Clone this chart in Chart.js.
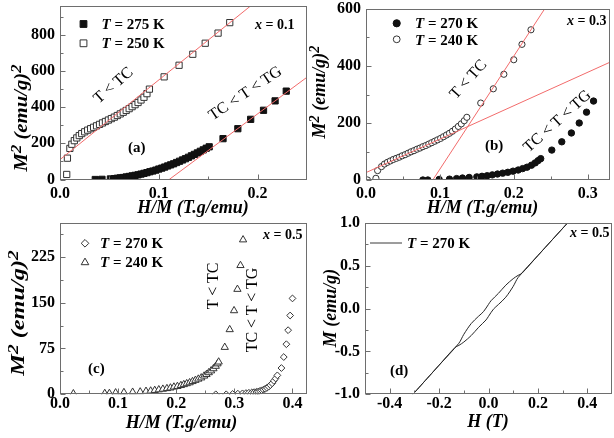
<!DOCTYPE html>
<html><head><meta charset="utf-8">
<script src="https://cdn.jsdelivr.net/npm/chart.js@4.4.1/dist/chart.umd.min.js"></script>
<style>
html,body{margin:0;padding:0;background:#fff;overflow:hidden;}
#wrap{position:relative;width:614px;height:438px;background:#fff;}
#wrap canvas{position:absolute;left:0;top:0;width:614px;height:438px;}
.t{position:absolute;font-family:"Liberation Serif","Times New Roman",serif;white-space:nowrap;color:#000;line-height:1;}
.t sup{font-size:0.8em;vertical-align:0.45em;line-height:0;}
</style></head><body>
<div id="wrap">
<canvas id="ca" width="614" height="438"></canvas>
<canvas id="cb" width="614" height="438"></canvas>
<canvas id="cc" width="614" height="438"></canvas>
<canvas id="cd" width="614" height="438"></canvas>
</div>
<script>
// ---------- Panel (a): x = 0.1 ----------
const a275X = [0.0357,0.0425,0.051,0.055,0.058,0.061,0.064,0.067,0.070,0.073,0.076,0.079,0.082,0.085,0.088,0.091,0.094,0.097,0.100,0.103,0.106,0.109,0.112,0.115,0.118,0.121,0.124,0.127,0.130,0.133,0.136,0.139,0.142,0.145,0.148,0.151,0.165,0.180,0.193,0.206,0.2177,0.229];
const a275Y = [0,1,3,5,7,9,11,14,17,20,23,26,30,34,38,43,47,52,58,63,69,75,81,87,94,101,108,115,123,131,139,147,156,164,173,181,226,281,333,383,435,489];
const a250X = [0.0068,0.0075,0.010,0.012,0.0145,0.017,0.0195,0.022,0.025,0.028,0.031,0.034,0.037,0.040,0.043,0.046,0.049,0.052,0.055,0.058,0.061,0.064,0.067,0.070,0.073,0.076,0.079,0.082,0.085,0.088,0.0905,0.1054,0.1205,0.1344,0.147,0.160,0.1718];
const a250Y = [28,118,172,195,215,230,243,254,264,273,281,289,297,305,313,321,329,337,345,354,363,372,382,392,403,414,426,440,455,475,500,568,632,693,754,810,868];
const aFitLowX = [0, 0.1928], aFitLowY = [110, 960];
const aFitHighX = [0.1105, 0.25], aFitHighY = [0, 566];
const aXTicks = [0.0, 0.1, 0.2], aXMinor = [0.05, 0.15];
const aYTicks = [0, 200, 400, 600, 800], aYMinor = [100, 300, 500, 700, 900];

// ---------- Panel (b): x = 0.3 ----------
const b270X = [0.077,0.0837,0.099,0.113,0.1226,0.1306,0.1396,0.150,0.157,0.164,0.171,0.178,0.185,0.192,0.199,0.206,0.212,0.218,0.224,0.229,0.233,0.2365,0.2515,0.265,0.278,0.2886,0.2985,0.308];
const b270Y = [0,0,2,3,5,7,9,11,13,15,18,21,24,27,31,35,40,45,52,60,68,75,105,134,165,200,238,277];
const b240X = [0.002,0.0134,0.0157,0.021,0.025,0.029,0.033,0.037,0.041,0.045,0.049,0.053,0.057,0.061,0.065,0.069,0.073,0.077,0.081,0.085,0.089,0.093,0.097,0.101,0.105,0.109,0.113,0.117,0.121,0.125,0.129,0.133,0.1365,0.1553,0.1723,0.1866,0.200,0.2111,0.2233];
const b240Y = [0,6,33,47,56,62,67,72,76,80,85,89,94,99,103,108,112,117,121,126,131,136,141,146,152,158,164,171,179,188,197,208,220,270,320,371,422,476,527];
const bFitSteepX = [0.0904, 0.2417], bFitSteepY = [0, 600];
const bFitShallowX = [0, 0.33], bFitShallowY = [26, 413];
const bXTicks = [0.0, 0.1, 0.2, 0.3], bXMinor = [0.05, 0.15, 0.25];
const bYTicks = [0, 200, 400, 600], bYMinor = [100, 300, 500];

// ---------- Panel (c): x = 0.5 ----------
const c270X = [0.268,0.286,0.297,0.306,0.314,0.320,0.325,0.330,0.334,0.338,0.341,0.344,0.347,0.350,0.353,0.356,0.359,0.362,0.365,0.368,0.371,0.374,0.381,0.385,0.3895,0.3925,0.396,0.400];
const c270Y = [0,0,0.5,1,1.5,2,2.5,3,3.5,4,4.5,5.5,6.5,7.5,9,10.5,12.5,15,18,22,26,31,43,61,82,105,129,157];
const c240X = [0.023,0.077,0.085,0.0957,0.110,0.125,0.138,0.148,0.156,0.163,0.170,0.177,0.184,0.190,0.196,0.202,0.208,0.213,0.218,0.223,0.228,0.233,0.238,0.243,0.248,0.252,0.256,0.260,0.264,0.268,0.271,0.273,0.2835,0.292,0.2995,0.3053,0.3105,0.315];
const c240Y = [1,1.5,1.5,2.5,3,3.5,4,5,5.5,6.5,7.5,8.5,9.5,10.5,12,13,14.5,16,17.5,19,21,23,25,27,30,32.5,35.5,38.5,42,46,50,53,77,106,137,172,211,253];
const cXTicks = [0.0, 0.1, 0.2, 0.3, 0.4], cXMinor = [0.05, 0.15, 0.25, 0.35];
const cYTicks = [0, 75, 150, 225], cYMinor = [37.5, 112.5, 187.5, 262.5];

// ---------- Panel (d): M(H) loop, T = 270 K ----------
const dH = [0.32,0.2,0.135,0.12,0.10,0.07,0.04,0.01,0.0,-0.02,-0.04,-0.07,-0.10,-0.12,-0.2,-0.306,
            -0.2,-0.135,-0.12,-0.10,-0.07,-0.04,-0.01,0.0,0.02,0.04,0.07,0.10,0.12,0.2,0.32];
const dM = [1.0,0.62,0.412,0.389,0.35,0.274,0.178,0.092,0.05,-0.034,-0.088,-0.174,-0.30,-0.404,-0.66,-1.0,
            -0.66,-0.452,-0.429,-0.39,-0.314,-0.218,-0.132,-0.09,-0.006,0.048,0.134,0.26,0.364,0.62,1.0];
const dXTicks = [-0.4, -0.2, 0.0, 0.2, 0.4], dXMinor = [-0.3, -0.1, 0.1, 0.3];
const dYTicks = [-1.0, -0.5, 0.0, 0.5, 1.0], dYMinor = [-0.75, -0.25, 0.25, 0.75];

// ---------- helpers ----------
const RED = '#f26b6b';
const FRAME = '#6e6e6e';
const FONT = 'Liberation Serif';
const pts = (xs, ys) => xs.map((x, i) => ({x, y: ys[i]}));

function drawMarker(ctx, m) {
  ctx.save();
  ctx.lineWidth = 1;
  ctx.strokeStyle = m.stroke;
  ctx.fillStyle = m.fill;
  const {x, y, r} = m;
  ctx.beginPath();
  if (m.style === 'rect') { const s = r * Math.SQRT1_2; ctx.rect(x - s, y - s, 2 * s, 2 * s); }
  else if (m.style === 'circle') { ctx.arc(x, y, r, 0, Math.PI * 2); }
  else if (m.style === 'rectRot') { ctx.moveTo(x, y - r); ctx.lineTo(x + r, y); ctx.lineTo(x, y + r); ctx.lineTo(x - r, y); ctx.closePath(); }
  else if (m.style === 'triangle') {
    ctx.moveTo(x, y - r); ctx.lineTo(x + r * 0.866, y + r * 0.5); ctx.lineTo(x - r * 0.866, y + r * 0.5); ctx.closePath();
  } else if (m.style === 'line') { ctx.moveTo(x - m.len / 2, y); ctx.lineTo(x + m.len / 2, y); ctx.stroke(); ctx.restore(); return; }
  ctx.fill(); ctx.stroke();
  ctx.restore();
}

const frameTicks = {
  id: 'frameTicks',
  afterDraw(chart, args, o) {
    const {ctx, chartArea: a, scales: {x, y}} = chart;
    ctx.save();
    ctx.strokeStyle = FRAME; ctx.lineWidth = 1;
    const L = Math.round(a.left) + 0.5, R = Math.round(a.right) - 0.5, T = Math.round(a.top) + 0.5, B = Math.round(a.bottom) - 0.5;
    ctx.strokeRect(L, T, R - L, B - T);
    ctx.beginPath();
    const xt = (v, len) => { const p = Math.round(x.getPixelForValue(v)) + 0.5; ctx.moveTo(p, B); ctx.lineTo(p, B - len); };
    const yt = (v, len) => { const p = Math.round(y.getPixelForValue(v)) + 0.5; ctx.moveTo(L, p); ctx.lineTo(L + len, p); };
    o.xMajor.forEach(v => xt(v, 5)); o.xMinor.forEach(v => xt(v, 3));
    o.yMajor.forEach(v => yt(v, 5)); o.yMinor.forEach(v => yt(v, 3));
    ctx.stroke();
    (o.legend || []).forEach(m => drawMarker(ctx, m));
    ctx.restore();
  }
};

function panel(id, o) {
  const tickFont = {family: FONT, size: 16, weight: 'bold'};
  return new Chart(document.getElementById(id), {
    type: 'scatter',
    data: {datasets: o.datasets},
    options: {
      responsive: false, animation: false, devicePixelRatio: 1,
      layout: {padding: o.pad},
      plugins: {legend: {display: false}, tooltip: {enabled: false},
        frameTicks: {xMajor: o.xTicks, xMinor: o.xMinor, yMajor: o.yTicks, yMinor: o.yMinor, legend: o.legend}},
      scales: {
        x: {type: 'linear', min: o.xMin, max: o.xMax,
          grid: {display: false, drawTicks: false}, border: {display: false},
          afterBuildTicks: s => { s.ticks = o.xTicks.map(v => ({value: v})); },
          ticks: {font: tickFont, color: '#000', padding: o.xPad, autoSkip: false, maxRotation: 0,
            callback: v => Number(v).toFixed(1)},
          afterFit: s => { s.height = 40; s.paddingLeft = 0; s.paddingRight = 0; }},
        y: {type: 'linear', min: o.yMin, max: o.yMax,
          grid: {display: false, drawTicks: false}, border: {display: false},
          afterBuildTicks: s => { s.ticks = o.yTicks.map(v => ({value: v})); },
          ticks: {font: tickFont, color: '#000', padding: 5, autoSkip: false,
            callback: v => o.yFmt(v)},
          afterFit: s => { s.width = 60; s.paddingTop = 0; s.paddingBottom = 0; }}
      }
    },
    plugins: [frameTicks]
  });
}

const lineDs = (label, xs, ys) => ({label, data: pts(xs, ys), showLine: true, borderColor: RED, borderWidth: 1, pointRadius: 0, clip: 0});
const markDs = (label, xs, ys, style, r, fill, stroke) => ({label, data: pts(xs, ys), showLine: false, pointStyle: style,
  pointRadius: r, pointHoverRadius: r, backgroundColor: fill, borderColor: stroke, pointBorderWidth: 1, borderWidth: 1, clip: 0});

// (a)
panel('ca', {
  pad: {left: 0, top: 6, right: 307, bottom: 218.5},
  xMin: 0, xMax: 0.25, yMin: 0, yMax: 960, xPad: 5,
  xTicks: aXTicks, xMinor: aXMinor, yTicks: aYTicks, yMinor: aYMinor, yFmt: v => String(v),
  datasets: [
    lineDs('Fit TC < T < TG', aFitHighX, aFitHighY),
    lineDs('Fit T < TC', aFitLowX, aFitLowY),
    markDs('T = 275 K', a275X, a275Y, 'rect', 4.4, '#111', '#111'),
    markDs('T = 250 K', a250X, a250Y, 'rect', 4.4, '#fff', '#333')
  ],
  legend: [
    {style: 'rect', x: 83.5, y: 24, r: 4.8, fill: '#111', stroke: '#111'},
    {style: 'rect', x: 83.5, y: 43.3, r: 4.8, fill: '#fff', stroke: '#333'}
  ]
});
// (b)
panel('cb', {
  pad: {left: 306, top: 9, right: 2, bottom: 218},
  xMin: 0, xMax: 0.33, yMin: 0, yMax: 600, xPad: 4,
  xTicks: bXTicks, xMinor: bXMinor, yTicks: bYTicks, yMinor: bYMinor, yFmt: v => String(v),
  datasets: [
    lineDs('Fit T < TC', bFitSteepX, bFitSteepY),
    lineDs('Fit shallow', bFitShallowX, bFitShallowY),
    markDs('T = 270 K', b270X, b270Y, 'circle', 3.2, '#111', '#111'),
    markDs('T = 240 K', b240X, b240Y, 'circle', 3.1, '#fff', '#333')
  ],
  legend: [
    {style: 'circle', x: 396.7, y: 23.3, r: 3.6, fill: '#111', stroke: '#111'},
    {style: 'circle', x: 396.7, y: 39.3, r: 3.4, fill: '#fff', stroke: '#333'}
  ]
});
// (c)
panel('cc', {
  pad: {left: 0, top: 223.3, right: 307, bottom: 3.7},
  xMin: 0, xMax: 0.425, yMin: 0, yMax: 280, xPad: 0,
  xTicks: cXTicks, xMinor: cXMinor, yTicks: cYTicks, yMinor: cYMinor, yFmt: v => String(v),
  datasets: [
    markDs('T = 270 K', c270X, c270Y, 'rectRot', 3.4, '#fff', '#333'),
    markDs('T = 240 K', c240X, c240Y, 'triangle', 4.2, '#fff', '#333')
  ],
  legend: [
    {style: 'rectRot', x: 85, y: 243.3, r: 3.8, fill: '#fff', stroke: '#333'},
    {style: 'triangle', x: 85, y: 262.5, r: 4.4, fill: '#fff', stroke: '#333'}
  ]
});
// (d)
panel('cd', {
  pad: {left: 305, top: 223, right: 2, bottom: 3.7},
  xMin: -0.5, xMax: 0.5, yMin: -1, yMax: 1, xPad: 0,
  xTicks: dXTicks, xMinor: dXMinor, yTicks: dYTicks, yMinor: dYMinor, yFmt: v => Number(v).toFixed(1),
  datasets: [
    {label: 'T = 270 K', data: pts(dH, dM), showLine: true, borderColor: '#262626', borderWidth: 1, pointRadius: 0, tension: 0.3, clip: 0}
  ],
  legend: [
    {style: 'line', x: 386, y: 243, len: 32, r: 0, fill: '#3a3a3a', stroke: '#3a3a3a'}
  ]
});

// ---------- text ----------
const wrap = document.getElementById('wrap');
function txt(html, x, y, o) {
  const d = document.createElement('div');
  d.className = 't';
  d.innerHTML = html;
  d.style.fontSize = o.size + 'px';
  d.style.fontWeight = o.bold ? 'bold' : 'normal';
  if (o.italic) d.style.fontStyle = 'italic';
  d.style.left = x + 'px'; d.style.top = y + 'px';
  const c = o.anchor === 'center';
  d.style.transformOrigin = c ? '50% 50%' : '0 50%';
  d.style.transform = `translate(${c ? '-50%' : '0'},-50%) rotate(${o.rot || 0}deg) scaleX(${o.sx || 1})`;
  wrap.appendChild(d);
}
const yTitle2 = '<i>M</i><sup>2</sup> (<i>emu/g</i>)<sup>2</sup>';
const xTitle = '<i>H/M (T.g/emu)</i>';
// (a)
txt('<i>T</i> = 275 K', 101.5, 24, {size: 15, bold: true});
txt('<i>T</i> = 250 K', 101.5, 43.3, {size: 15, bold: true});
txt('<i>x</i> = 0.1', 255, 25, {size: 14, bold: true});
txt('(a)', 128, 147, {size: 15, bold: true});
txt('T &lt; TC', 113, 85, {size: 16, anchor: 'center', rot: -41});
txt('TC &lt; T &lt; TG', 244.5, 92.5, {size: 16, anchor: 'center', rot: -34});
txt(yTitle2, 20.7, 117.5, {size: 18, bold: true, italic: true, anchor: 'center', rot: -90, sx: 1.15});
txt(xTitle, 193, 207, {size: 18, bold: true, anchor: 'center'});
// (b)
txt('<i>T</i> = 270 K', 415, 23.3, {size: 15, bold: true});
txt('<i>T</i> = 240 K', 415, 39.5, {size: 15, bold: true});
txt('<i>x</i> = 0.3', 567, 21, {size: 14, bold: true});
txt('(b)', 485, 145, {size: 15, bold: true});
txt('T &lt; TC', 467.5, 78.5, {size: 16, anchor: 'center', rot: -48});
txt('TC &lt; T &lt; TG', 556.7, 120.5, {size: 16, anchor: 'center', rot: -42});
txt(yTitle2, 318.5, 92, {size: 18, bold: true, italic: true, anchor: 'center', rot: -90});
txt(xTitle, 482.5, 207, {size: 18, bold: true, anchor: 'center'});
// (c)
txt('<i>T</i> = 270 K', 100, 243.3, {size: 15, bold: true});
txt('<i>T</i> = 240 K', 100, 261.7, {size: 15, bold: true});
txt('<i>x</i> = 0.5', 263, 235, {size: 14, bold: true});
txt('(c)', 88, 368, {size: 15, bold: true});
txt('T &lt; TC', 213, 286, {size: 16, anchor: 'center', rot: -90});
txt('TC &lt; T &lt; TG', 252, 310, {size: 16, anchor: 'center', rot: -90});
txt(yTitle2, 18.3, 313, {size: 18, bold: true, italic: true, anchor: 'center', rot: -90, sx: 1.35});
txt(xTitle, 181.5, 421.7, {size: 18, bold: true, anchor: 'center'});
// (d)
txt('<i>T</i> = 270 K', 407, 243, {size: 15, bold: true});
txt('<i>x</i> = 0.5', 570, 233, {size: 14, bold: true});
txt('(d)', 390, 370, {size: 15, bold: true});
txt('<i>M (emu/g)</i>', 330, 307.5, {size: 18, bold: true, anchor: 'center', rot: -90});
txt('<i>H (T)</i>', 488, 420.7, {size: 18, bold: true, anchor: 'center'});
</script>
</body></html>
